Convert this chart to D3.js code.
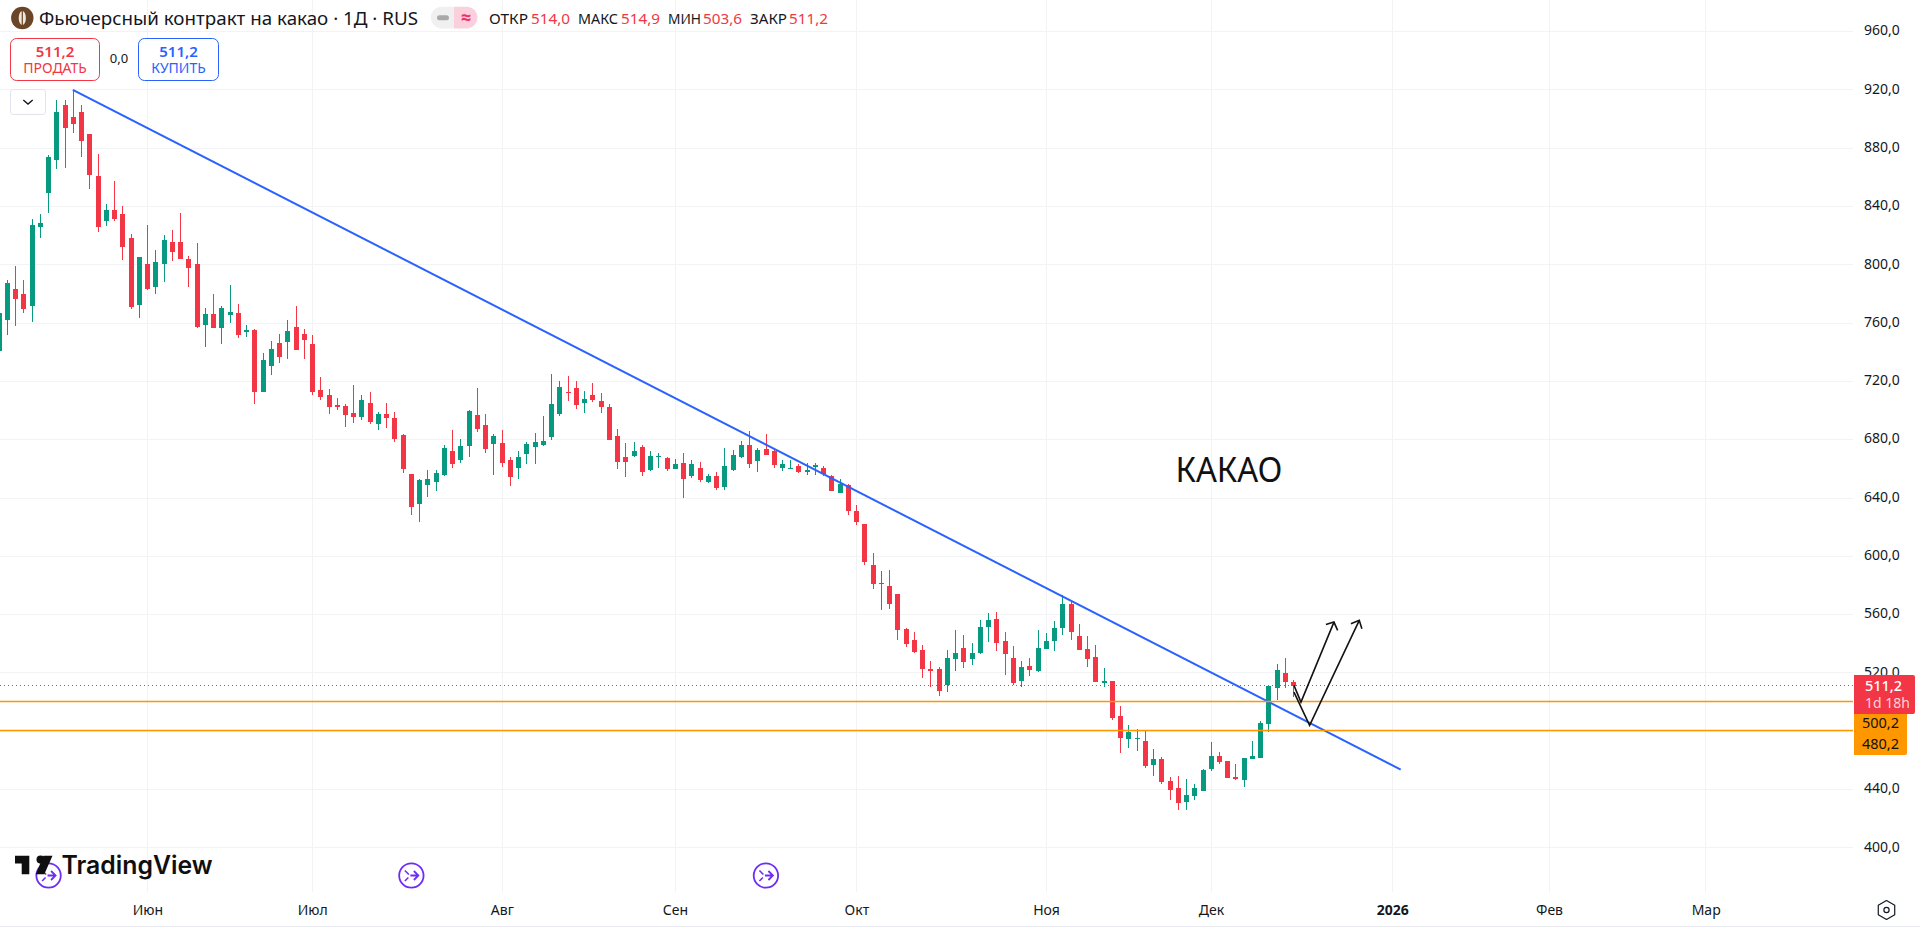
<!DOCTYPE html>
<html lang="ru">
<head>
<meta charset="utf-8">
<title>Фьючерсный контракт на какао</title>
<script src="https://cdn.jsdelivr.net/npm/d3@7"></script>
<style>
html,body{margin:0;padding:0;background:#fff;overflow:hidden}
svg{display:block}
text{font-family:"Noto Sans","Open Sans",sans-serif}
</style>
</head>
<body>
<script>
const opens = [
740.6,761.8,783.5,780.1,771.4,825.6,848.9,872.2,909.3,901.7,
904.5,889.4,860.6,829.7,837.7,835,818.7,772.1,800.2,784.5,
800.2,815.3,815.3,803.7,800.2,758.5,766,756.4,765.3,766.7,
753.6,755,712.5,730.3,746.1,746.7,757,752.2,745.4,713.8,
710.4,703.5,702.9,698.1,695.3,705,690.5,697.4,694.6,683,
656.2,635.7,648.7,650.7,655.5,672,665.8,675.4,696.7,689.8,
676.8,677.5,665.8,660.3,669.9,674.7,676.1,681.6,697.4,712.5,
715.2,705,710.4,706.3,702.2,682.3,667.9,668.6,674.7,659,
667.9,667.2,659.7,663.8,654.9,660.3,650.7,654.9,647.3,659,
667.9,676.1,665.1,673.4,672,660.3,659.7,661.7,658,661.3,
660.3,654.9,643.2,648.7,630.9,622,593.8,580.8,579.4,573.9,
549.9,542.4,535.5,522.5,522.5,511.5,529.4,536.9,529.4,533.5,
551.3,556.8,541.7,530,514.3,524.6,521.1,536.2,541.7,550.6,
567.1,545.1,536.2,530.7,512.9,514.3,490.3,474.5,474.5,473.1,
456.7,460.8,445.7,440.9,431.3,435.4,438.9,454,462.9,459.4,
448.5,446.4,460.8,461.5,484.8,510,519.8,514];
const closes = [
766.6,787.2,776.2,769.4,827,829,873.6,905.1,893.5,896.9,
884.6,861.9,825.6,837.7,831.1,811.9,770.7,805,783.1,801.6,
816.7,809.1,803.7,797.5,757,766,756.4,770.1,767.4,751.6,
755,712.5,734.4,741.9,736.5,754.3,741.3,748.1,712.5,709,
702.2,702.2,696.7,695.3,707,691.9,697.4,694.6,680.2,659.7,
633.6,652.1,652.8,656.9,674.1,663.1,675.4,699.4,687.1,673.4,
682.3,663.8,654.2,667.9,676.8,678.2,678.9,704.2,715.9,711.8,
703.5,707.7,707,702.2,679.5,664.5,664.5,672,657.6,668.6,
668.6,659.7,663.1,652.8,663.1,652.1,654.9,646.6,661.7,669.3,
676.1,663.1,672.7,669.3,662.4,663.1,660.3,657.6,659,662.4,
656.7,644.6,649.4,630.9,623.3,595.9,580.8,581.5,567.1,549.3,
539.7,534.2,522.5,521.4,507.4,530,533.5,527.3,533.5,551.3,
556.1,540.3,532.8,512.9,523.9,521.8,536.9,541.7,550.6,567.1,
547.9,535.5,529.4,513.6,514.3,488.9,475.2,479.3,475.2,456,
460.8,445,439.5,430.6,436.1,440.9,453.3,462.9,458.7,447.8,
447.1,461.5,462.9,485.5,510.9,521.8,513.6,511.2];
const highs = [
766.6,789.7,798.9,789.3,831.5,834.5,875.2,912.7,912.7,920,
909.3,890,875.7,842,857.8,840,820.8,805.3,827,809.8,
820.1,824.2,835.2,805.7,814.6,770.1,780.1,771.4,785.8,772.8,
758.4,755.7,739.2,747.4,752.2,761.8,771.4,755.7,751.5,722.7,
714.5,708.3,704.2,717.3,710.4,712.5,698.7,705,698.7,683.7,
656.2,652.8,659,659,676.1,686.4,680.2,700.1,715.2,697.4,
683.7,686.4,667.9,672,678.2,684.3,696,724.8,720,723.4,
720,713.1,718.6,711.8,704.2,687.1,677.5,678.2,676.1,672,
670.6,667.9,666.5,670.6,665.8,664.5,656.2,657.6,674.1,672.7,
678.9,685.7,674.1,683.7,672.7,665.8,665.8,663.1,663.8,663.8,
661.7,655.5,652.8,649.4,635,622,602.1,589.7,590.4,573.9,
550.6,547.9,539,528,523.9,535.5,549.3,545.8,540.3,556.1,
560.9,561.6,547.9,538.3,528,530,549.3,547.2,555.4,573.3,
568.5,553.4,545.1,539,523.2,514.3,497.1,484.1,481.4,480,
467.7,462.2,448.5,449.1,447.1,443.7,454,472.5,465.6,459.4,
457.4,461.5,473.1,486.9,510.9,526,530,514.9];
const lows = [
740.6,751.5,757.7,766.7,760.5,818.7,835.2,866,866.7,890.1,
873.6,851.7,822.2,826.3,829.7,803,769.4,763.2,783,779.7,
787.9,802.3,803.7,784.5,756.3,743.4,756.4,745.4,759.8,749.6,
750.2,704.2,712.5,724.1,732.3,735.1,741.3,735.1,710.4,707,
697.4,700.1,688.5,691.2,693.3,690.5,686.4,687.8,678.2,656.9,
628.1,623.3,640.5,644.6,654.9,660.3,663.8,667.9,685,670.6,
655.5,661,648,652.8,663.1,663.1,675.4,679.5,696,706.3,
700.8,698.1,705.6,698.1,679.5,659.7,654.2,667.9,654.9,658.3,
660.3,658.3,659.7,639.8,653.5,650.7,650,645.3,645.3,658.3,
667.2,660.3,657.6,669.3,660.3,658.3,659.7,656.9,655.5,655.5,
654.9,644.6,643.2,628.1,621.3,593.8,577.4,563,563.7,542.4,
537.6,533.5,516.3,510.2,504,506.7,521.1,523.2,525.3,532.8,
541,534.9,518.4,511.5,510.2,517.7,520.4,536.2,534.9,545.8,
542.4,535.5,523.9,513.6,510.7,487.5,464.9,468.3,466.3,454.6,
449.1,443.6,432.7,425.8,425.8,432.7,438.9,452.6,457.3,447.8,
446.4,441.6,460.8,461.5,479.3,501.3,509.5,503.6];

const priceTicks = [400,440,480,520,560,600,640,680,720,760,800,840,880,920,960];
const axisPriceLabels = [400,440,520,560,600,640,680,720,760,800,840,880,920,960];
const monthIndex = [18,38,61,82,104,127,147,169,188,207];
const monthNames = ["Июн","Июл","Авг","Сен","Окт","Ноя","Дек","2026","Фев","Мар"];
const trendIndex = [8.87,169.92];
const trendPrice = [920,453.7];
const levels = [500.2,480.2];
const lastPrice = 511.2;
const arrowOneIndex = [156.97,157.82,161.82];
const arrowOnePrice = [511.5,500,554.9];
const arrowOneHeadIndex = [160.85,161.82,162.27];
const arrowOneHeadPrice = [553.3,554.9,549.2];
const arrowTwoIndex = [156.97,158.87,164.89];
const arrowTwoPrice = [506.9,484.1,556.1];
const arrowTwoHeadIndex = [163.88,164.89,165.21];
const arrowTwoHeadPrice = [553.8,556.1,550.4];
const eventIndex = [6,50,93];
const ohlcLabels = ["ОТКР","МАКС","МИН","ЗАКР"];
const ohlcValues = ["514,0","514,9","503,6","511,2"];
const titleText = "Фьючерсный контракт на какао · 1Д · RUS";
const noteText = "КАКАО";

const W = 1920, H = 929, plotRight = 1853, plotBottom = 892;
const GREEN = "#089981", RED = "#f23645", BLUE = "#2962ff", ORANGE = "#ff9800", GRID = "#f2f3f5", INK = "#131722";
const fmt = v => d3.format(".1f")(v).replace(".", ",");

const x = d3.scaleLinear().domain([0,157]).range([-0.3,1294.2]);
const y = d3.scaleLinear().domain([920,400]).range([89.85,847.88]);
const snapX = i => Math.floor(x(i) - 0.5) + 0.5;
const snapY = v => Math.floor(y(v)) + 0.5;

const svg = d3.select("body").append("svg").attr("width",W).attr("height",H).attr("viewBox",`0 0 ${W} ${H}`);
svg.append("rect").attr("width",W).attr("height",H).attr("fill","#fff");

/* grid */
const grid = svg.append("g").attr("shape-rendering","crispEdges").attr("stroke",GRID).attr("stroke-width",1);
grid.selectAll("line.h").data(priceTicks).join("line").attr("class","h")
  .attr("x1",0).attr("x2",plotRight).attr("y1",snapY).attr("y2",snapY);
grid.selectAll("line.v").data(monthIndex).join("line").attr("class","v")
  .attr("y1",0).attr("y2",plotBottom).attr("x1",snapX).attr("x2",snapX);

/* candles */
const candles = d3.range(opens.length).map(i => ({i,o:opens[i],h:highs[i],l:lows[i],c:closes[i]}));
const cg = svg.append("g").attr("shape-rendering","crispEdges");
const color = d => d.c >= d.o ? GREEN : RED;
cg.selectAll("rect.wick").data(candles).join("rect").attr("class","wick")
  .attr("x",d => snapX(d.i) - 0.5).attr("width",1)
  .attr("y",d => Math.round(y(d.h))).attr("height",d => Math.max(1,Math.round(y(d.l)) - Math.round(y(d.h))))
  .attr("fill",color);
cg.selectAll("rect.body").data(candles).join("rect").attr("class","body")
  .attr("x",d => snapX(d.i) - 2.5).attr("width",5)
  .attr("y",d => Math.round(y(Math.max(d.o,d.c))))
  .attr("height",d => Math.max(1,Math.round(y(Math.min(d.o,d.c))) - Math.round(y(Math.max(d.o,d.c)))))
  .attr("fill",color);

/* last price line */
svg.append("line").attr("x1",0).attr("x2",plotRight).attr("y1",snapY(lastPrice)).attr("y2",snapY(lastPrice))
  .attr("stroke",RED).attr("stroke-width",1).attr("stroke-dasharray","1 3").attr("shape-rendering","crispEdges");

/* trend */
svg.append("path").datum(d3.zip(trendIndex,trendPrice))
  .attr("d",d3.line().x(d=>x(d[0])).y(d=>y(d[1])))
  .attr("fill","none").attr("stroke",BLUE).attr("stroke-width",2);

/* levels */
svg.append("g").selectAll("line").data(levels).join("line")
  .attr("x1",0).attr("x2",plotRight).attr("y1",snapY).attr("y2",snapY)
  .attr("stroke",ORANGE).attr("stroke-width",1.3);

/* drawn arrows */
const arrowLine = d3.line().x(d=>x(d[0])).y(d=>y(d[1]));
[[arrowOneIndex,arrowOnePrice],[arrowOneHeadIndex,arrowOneHeadPrice],[arrowTwoIndex,arrowTwoPrice],[arrowTwoHeadIndex,arrowTwoHeadPrice]]
 .forEach(([a,b]) => svg.append("path").datum(d3.zip(a,b)).attr("d",arrowLine)
   .attr("fill","none").attr("stroke","#131313").attr("stroke-width",1.6));

/* note */
svg.append("text").attr("x",x(142.6)).attr("y",y(650.9)).text(noteText)
  .attr("font-size",34).attr("textLength",107).attr("lengthAdjust","spacingAndGlyphs").attr("fill","#111");

/* price axis */
const yAxis = d3.axisRight(y).tickValues(axisPriceLabels).tickFormat(fmt).tickSize(0).tickPadding(11);
const yg = svg.append("g").attr("transform",`translate(${plotRight},-1.2)`).call(yAxis);
yg.select(".domain").remove();
yg.selectAll("text").attr("font-size",14).attr("fill",INK).attr("font-family",'"Noto Sans",sans-serif');

/* time axis */
const xAxis = d3.axisBottom(x).tickValues(monthIndex).tickFormat((d,i)=>monthNames[i]).tickSize(0).tickPadding(0);
const xg = svg.append("g").attr("transform","translate(-0.8,905)").call(xAxis);
xg.select(".domain").remove();
xg.selectAll("text").attr("font-size",14).attr("fill",INK).attr("font-family",'"Noto Sans",sans-serif')
  .attr("font-weight",(d,i)=>monthNames[i]==="2026"?700:400);
svg.append("line").attr("x1",0).attr("x2",W).attr("y1",926.5).attr("y2",926.5).attr("stroke","#e9ebf0").attr("stroke-width",1).attr("shape-rendering","crispEdges");

/* right hand price tags */
svg.append("path").attr("d","M1854 675H1913a2 2 0 0 1 2 2V712a2 2 0 0 1 -2 2H1854Z").attr("fill",RED);
svg.append("path").attr("d","M1854 714H1907V753a2 2 0 0 1 -2 2H1854Z").attr("fill",ORANGE);
svg.append("text").attr("x",1883.5).attr("y",690.7).attr("text-anchor","middle").attr("font-size",14.5).attr("font-weight",500).attr("fill","#fff").text(fmt(lastPrice));
svg.append("text").attr("x",1887.5).attr("y",707.7).attr("text-anchor","middle").attr("font-size",14).attr("fill","#ffd3d8").text("1d 18h");
levels.forEach((v,i)=>svg.append("text").attr("x",1880.5).attr("y",[728.3,749.3][i]).attr("text-anchor","middle").attr("font-size",14.5).attr("fill","#111").text(fmt(v)));

/* settings hexagon */
const hex = d3.range(6).map(k => { const a = Math.PI/3*k + Math.PI/6; return [1886.5+9.5*Math.cos(a),910+9.5*Math.sin(a)]; });
svg.append("path").attr("d","M"+hex.join("L")+"Z").attr("fill","none").attr("stroke",INK).attr("stroke-width",1.2).attr("stroke-linejoin","round");
svg.append("circle").attr("cx",1886.5).attr("cy",910).attr("r",2.6).attr("fill","none").attr("stroke",INK).attr("stroke-width",1.2);

/* event icons */
const ev = svg.append("g").selectAll("g").data(eventIndex).join("g").attr("transform",d=>`translate(${x(d)-0.6},875.5)`)
  .attr("fill","none").attr("stroke","#6f2cf5").attr("stroke-width",1.8);
ev.append("circle").attr("r",12.2);
ev.append("path").attr("d","M-1 0H7M2.5 -4.5L7 0L2.5 4.5");
ev.append("path").attr("d","M-6.5 -5L-2.5 -1M-6.5 5.5L-3 2").attr("stroke-width",1.6);

/* TradingView logo */
const logo = svg.append("g").attr("fill","#0f0f0f");
logo.append("path").attr("d","M15 855.7H29.3V874.3H21.7V863.4H15Z");
logo.append("circle").attr("cx",40.6).attr("cy",859.6).attr("r",4.1);
logo.append("path").attr("d","M43.5 855.7H52.5L44.3 874.3H35.8Z");
logo.append("text").attr("x",61.5).attr("y",874).attr("font-size",25).attr("font-weight",600)
  .style("font-family","Inter,sans-serif").attr("textLength",151).attr("lengthAdjust","spacingAndGlyphs").text("TradingView");

/* header */
svg.append("circle").attr("cx",22.3).attr("cy",18).attr("r",11.2).attr("fill","#6b4527");
svg.append("ellipse").attr("cx",22.3).attr("cy",18).attr("rx",3.6).attr("ry",7).attr("fill","#efe6dc");
svg.append("line").attr("x1",22.3).attr("x2",22.3).attr("y1",11).attr("y2",25).attr("stroke","#6b4527").attr("stroke-width",1.2);
svg.append("text").attr("x",39).attr("y",25).attr("font-size",18).attr("fill",INK)
  .attr("textLength",379).attr("lengthAdjust","spacingAndGlyphs").text(titleText);

svg.append("path").attr("d","M454 6.7H440.3a11 11 0 0 0 0 21.8H454Z").attr("fill","#f0f0f0");
svg.append("path").attr("d","M454 6.7H468a11 11 0 0 1 0 21.8H454Z").attr("fill","#fbd0dd");
svg.append("rect").attr("x",437).attr("y",15.3).attr("width",12).attr("height",5).attr("rx",2.5).attr("fill","#a9a9a9");
svg.append("text").attr("x",466).attr("y",24).attr("text-anchor","middle").attr("font-size",18).attr("font-weight",700).attr("fill","#f0306a").text("≈");

const ohlcLabelX = [489,578,668,750], ohlcValueX = [531,621,703,789];
const ohlcLabelW = [39,40,33,37], ohlcValueW = [39,39,39,39];
ohlcLabels.forEach((t,i)=>svg.append("text").attr("x",ohlcLabelX[i]).attr("y",24).attr("font-size",15).attr("fill",INK)
  .attr("textLength",ohlcLabelW[i]).attr("lengthAdjust","spacingAndGlyphs").text(t));
ohlcValues.forEach((t,i)=>svg.append("text").attr("x",ohlcValueX[i]).attr("y",24).attr("font-size",15).attr("fill",RED)
  .attr("textLength",ohlcValueW[i]).attr("lengthAdjust","spacingAndGlyphs").text(t));

/* trade buttons */
svg.append("rect").attr("x",10.5).attr("y",38.5).attr("width",89).attr("height",42).attr("rx",6).attr("fill","#fff").attr("stroke",RED);
svg.append("rect").attr("x",138.5).attr("y",38.5).attr("width",80).attr("height",42).attr("rx",6).attr("fill","#fff").attr("stroke",BLUE);
svg.append("text").attr("x",55).attr("y",56.5).attr("text-anchor","middle").attr("font-size",15).attr("font-weight",600).attr("fill",RED).text(fmt(lastPrice));
svg.append("text").attr("x",55).attr("y",73.3).attr("text-anchor","middle").attr("font-size",14).attr("fill",RED).text("ПРОДАТЬ");
svg.append("text").attr("x",178.5).attr("y",56.5).attr("text-anchor","middle").attr("font-size",15).attr("font-weight",600).attr("fill",BLUE).text(fmt(lastPrice));
svg.append("text").attr("x",178.5).attr("y",73.3).attr("text-anchor","middle").attr("font-size",14).attr("fill",BLUE).text("КУПИТЬ");
svg.append("text").attr("x",119).attr("y",63.3).attr("text-anchor","middle").attr("font-size",13).attr("fill",INK).text("0,0");

/* collapse button */
svg.append("rect").attr("x",10.5).attr("y",89.5).attr("width",35).attr("height",25).attr("rx",3).attr("fill","#fff").attr("stroke","#e0e3eb");
svg.append("path").attr("d","M23.3 100L28 104L32.7 100").attr("fill","none").attr("stroke",INK).attr("stroke-width",1.4);
</script>
</body>
</html>
